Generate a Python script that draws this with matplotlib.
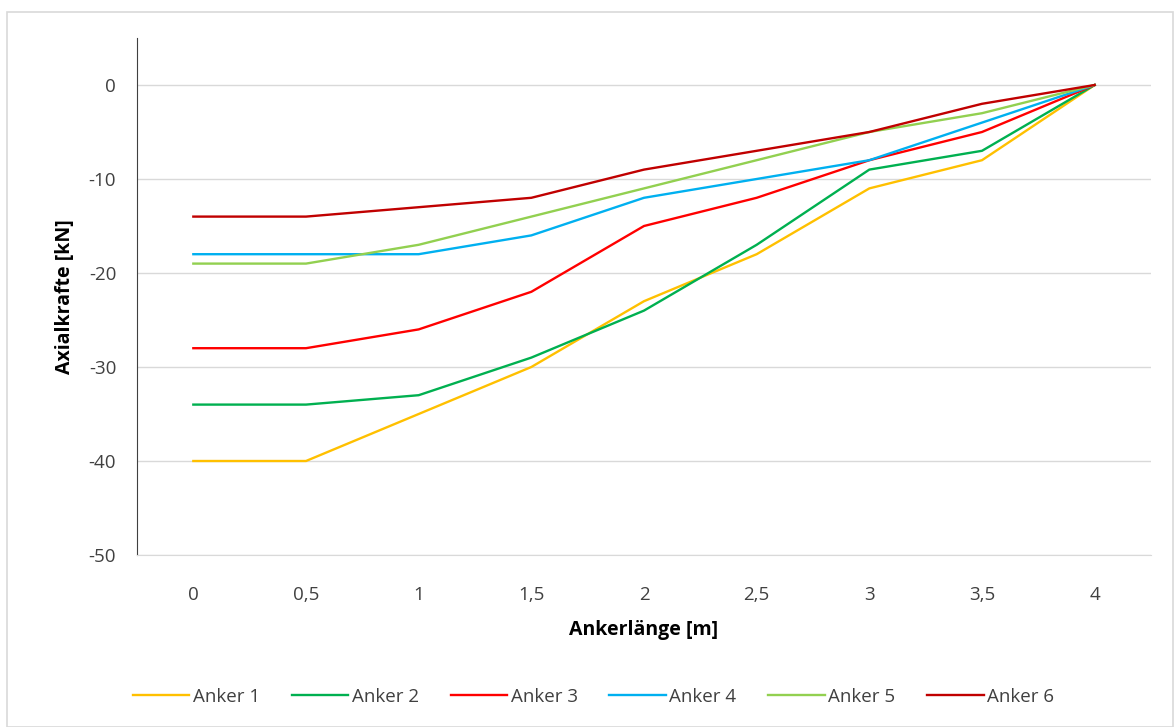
import numpy as np
import matplotlib.pyplot as plt
from matplotlib.patches import Rectangle

plt.rcParams['font.family'] = ['Open Sans', 'DejaVu Sans']
plt.rcParams['axes.unicode_minus'] = False

x_labels = ["0", "0,5", "1", "1,5", "2", "2,5", "3", "3,5", "4"]
anker1 = [-40, -40, -35, -30, -23, -18, -11, -8, 0]
anker2 = [-34, -34, -33, -29, -24, -17, -9, -7, 0]
anker3 = [-28, -28, -26, -22, -15, -12, -8, -5, 0]
anker4 = [-18, -18, -18, -16, -12, -10, -8, -4, 0]
anker5 = [-19, -19, -17, -14, -11, -8, -5, -3, 0]
anker6 = [-14, -14, -13, -12, -9, -7, -5, -2, 0]
names = ["Anker 1", "Anker 2", "Anker 3", "Anker 4", "Anker 5", "Anker 6"]
colors = ["#FFC000", "#00B050", "#FF0000", "#00B0F0", "#92D050", "#C00000"]

fig = plt.figure(figsize=(11.75, 7.27), dpi=100)
# light frame around the chart area
fig.patches.append(Rectangle((7/1175, 0), 1 - 7/1175 - 2/1175, 1 - 12/727,
                             transform=fig.transFigure, fill=False,
                             edgecolor="#D9D9D9", lw=1.2))
ax = fig.add_axes([137/1175, 1 - 555/727, (1151 - 137)/1175, (555 - 38)/727])

pos = np.arange(len(x_labels))
for data, name, c in zip([anker1, anker2, anker3, anker4, anker5, anker6], names, colors):
    ax.plot(pos, data, color=c, lw=1.7, label=name)

ax.set_xlim(-0.5, len(x_labels) - 0.5)
ax.set_ylim(-50, 5)
ax.set_yticks(np.arange(-50, 1, 10))
ax.set_xticks(pos)
ax.set_xticklabels(x_labels)
ax.tick_params(axis="both", length=0, labelsize=13.5, colors="#404040")
ax.tick_params(axis="y", pad=15)
ax.tick_params(axis="x", pad=22)
ax.grid(axis="y", color="#D9D9D9", lw=1)
ax.set_axisbelow(True)
for s in ["top", "right"]:
    ax.spines[s].set_visible(False)
ax.spines["bottom"].set_color("#D9D9D9")
ax.spines["left"].set_color("#404040")

ax.set_xlabel("Ankerlänge [m]", fontsize=14, fontweight="bold", labelpad=12)
ax.set_ylabel("Axialkrafte [kN]", fontsize=14, fontweight="bold", labelpad=10)

fig.legend(loc="center", bbox_to_anchor=(0.5 + 6/1175, 1 - 697/727), ncol=6, frameon=False,
           fontsize=13.5, handlelength=3.0, handletextpad=0.2, columnspacing=1.7,
           labelcolor="#404040")

fig.savefig("out.png", dpi=100)
